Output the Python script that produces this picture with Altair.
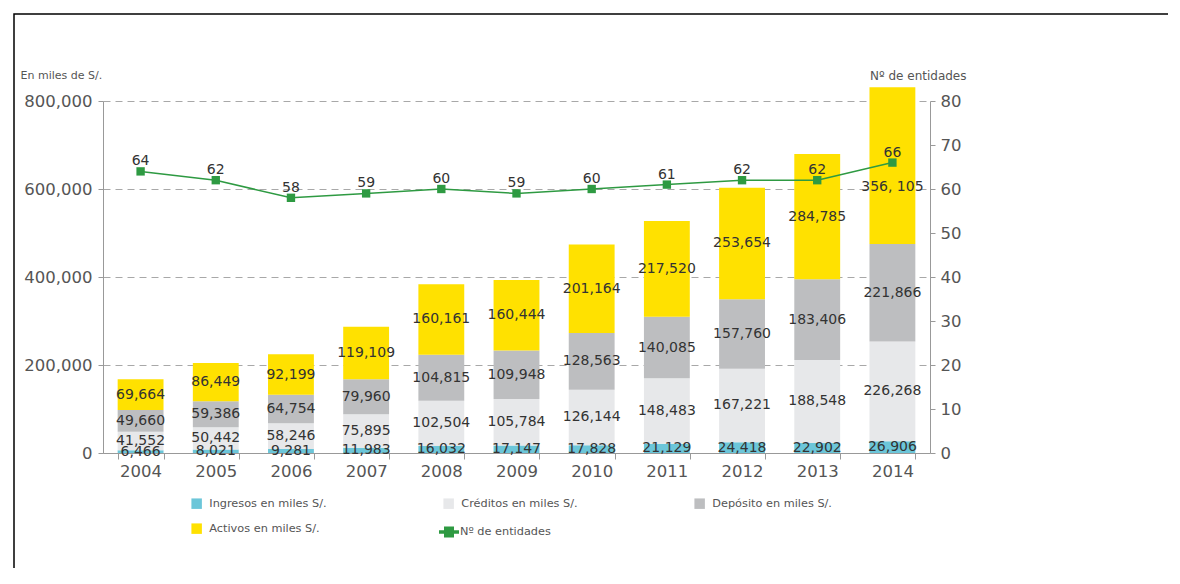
import altair as alt
import pandas as pd

years = ["2004", "2005", "2006", "2007", "2008", "2009", "2010", "2011", "2012", "2013", "2014"]
ingresos = [6466, 8021, 9281, 11983, 16032, 17147, 17828, 21129, 24418, 22902, 26906]
creditos = [41552, 50442, 58246, 75895, 102504, 105784, 126144, 148483, 167221, 188548, 226268]
deposito = [49660, 59386, 64754, 79960, 104815, 109948, 128563, 140085, 157760, 183406, 221866]
activos = [69664, 86449, 92199, 119109, 160161, 160444, 201164, 217520, 253654, 284785, 356105]
entidades = [64, 62, 58, 59, 60, 59, 60, 61, 62, 62, 66]

series_names = ["Ingresos en miles S/.", "Créditos en miles S/.", "Depósito en miles S/.", "Activos en miles S/."]
series_colors = ["#6CC6D9", "#E7E8EA", "#BDBEC0", "#FFE100"]
line_name = "Nº de entidades"
green = "#2E9A42"

rows = []
for i, y in enumerate(years):
    for k, (name, vals) in enumerate(zip(series_names, [ingresos, creditos, deposito, activos])):
        lab = f"{vals[i]:,}"
        if name == series_names[3] and y == "2014":
            lab = "356, 105"
        rows.append({"year": y, "serie": name, "value": vals[i], "ord": k, "label": lab,
                     "shift": 1 if (name == series_names[3] and y == "2014") else 0})
df = pd.DataFrame(rows)
dl = pd.DataFrame({"year": years, "n": entidades, "serie": [line_name] * len(years)})

FONT = "DejaVu Sans"
LAB = "#555555"
AX = 16.5

xenc = alt.X("year:N", sort=years, title=None,
             scale=alt.Scale(paddingInner=0.39, paddingOuter=0.195),
             axis=alt.Axis(labelAngle=0, labelFont=FONT, labelFontSize=AX, labelColor=LAB,
                           tickBand="extent", tickSize=6, tickColor="#999", domainColor="#999",
                           labelPadding=4))

base = alt.Chart(df).transform_stack(
    stack="value", groupby=["year"], as_=["v0", "v1"], sort=[alt.SortField("ord")]
).transform_calculate(mid="(datum.v0 + datum.v1) / 2")

yscale = alt.Scale(domain=[0, 800000], nice=False)
yaxis = alt.Axis(values=[0, 200000, 400000, 600000, 800000], format=",.0f",
                 labelFont=FONT, labelFontSize=AX, labelColor=LAB, labelPadding=6,
                 grid=True, gridDash=[7, 5], gridColor="#A8A8A8",
                 domainColor="#999", tickColor="#999", tickSize=5,
                 titleAngle=0, titleAlign="left", titleBaseline="middle",
                 titleX=-83, titleY=-26, titleFont=FONT, titleFontSize=11,
                 titleFontWeight="normal", titleColor=LAB)
ytitle = "En miles de S/."

bars = base.mark_bar().encode(
    x=xenc,
    y=alt.Y("v0:Q", scale=yscale, title=ytitle, axis=yaxis),
    y2="v1:Q",
    color=alt.Color("serie:N", sort=series_names,
                    scale=alt.Scale(domain=series_names, range=series_colors),
                    legend=alt.Legend(title=None, orient="none", legendX=88, legendY=397,
                                      direction="horizontal",
                                      columns=3, columnPadding=116, rowPadding=13,
                                      symbolType="square", symbolSize=110, symbolStrokeWidth=0,
                                      labelFont=FONT, labelFontSize=11.3, labelColor=LAB,
                                      labelOffset=7)),
)

texts = base.transform_filter("datum.shift == 0").mark_text(
    font=FONT, fontSize=14, color="#333333", baseline="middle"
).encode(x=alt.X("year:N", sort=years), y=alt.Y("mid:Q", scale=yscale, title=ytitle, axis=yaxis),
         text="label:N")

texts2 = base.transform_filter("datum.shift == 1").mark_text(
    font=FONT, fontSize=14, color="#333333", baseline="middle", dy=21
).encode(x=alt.X("year:N", sort=years), y=alt.Y("mid:Q", scale=yscale, title=ytitle, axis=yaxis),
         text="label:N")

left = alt.layer(bars, texts, texts2)

rscale = alt.Scale(domain=[0, 80], nice=False)
raxis = alt.Axis(orient="right", values=list(range(0, 81, 10)),
                 labelFont=FONT, labelFontSize=AX, labelColor=LAB, labelPadding=5, grid=False,
                 domainColor="#999", tickColor="#999", tickSize=5,
                 titleAngle=0, titleAlign="right", titleBaseline="middle",
                 titleX=36, titleY=-26, titleFont=FONT, titleFontSize=12,
                 titleFontWeight="normal", titleColor=LAB)
lbase = alt.Chart(dl)
line = lbase.mark_line(color=green, strokeWidth=1.5).encode(
    x=alt.X("year:N", sort=years),
    y=alt.Y("n:Q", scale=rscale, title=line_name, axis=raxis),
)
pts = lbase.mark_point(shape="square", filled=True, size=70, opacity=1).encode(
    x=alt.X("year:N", sort=years),
    y=alt.Y("n:Q", scale=rscale, title=line_name, axis=raxis),
    color=alt.Color("serie:N", scale=alt.Scale(domain=[line_name], range=[green]),
                    legend=alt.Legend(title=None, orient="none", legendX=336, legendY=421,
                                      symbolType="M-1,-0.18L1,-0.18L1,0.18L-1,0.18Z M-0.5,-0.55L0.5,-0.55L0.5,0.55L-0.5,0.55Z",
                                      symbolSize=400, symbolStrokeWidth=0,
                                      labelFont=FONT, labelFontSize=11.3, labelColor=LAB,
                                      labelOffset=1)),
)
ltext = lbase.mark_text(font=FONT, fontSize=14, color="#333333", baseline="bottom", dy=-3).encode(
    x=alt.X("year:N", sort=years), y=alt.Y("n:Q", scale=rscale, title=line_name, axis=raxis),
    text="n:Q")

right = alt.layer(line, pts, ltext)

frame = alt.Chart(pd.DataFrame({"a": [0]})).mark_rect(
    fill="transparent", stroke="#000000", strokeWidth=1.5
).encode(x=alt.value(-89), x2=alt.value(1200), y=alt.value(-87), y2=alt.value(700))

chart = alt.layer(frame, left, right).resolve_scale(
    y="independent", color="independent"
).resolve_legend(color="independent").properties(
    width=827, height=352,
    autosize=alt.AutoSizeParams(type="none"),
    padding={"left": 95, "top": 93, "right": 238, "bottom": 115},
).configure_view(stroke=None)

chart.save("out.html", embed_options={"renderer": "svg", "actions": False})
